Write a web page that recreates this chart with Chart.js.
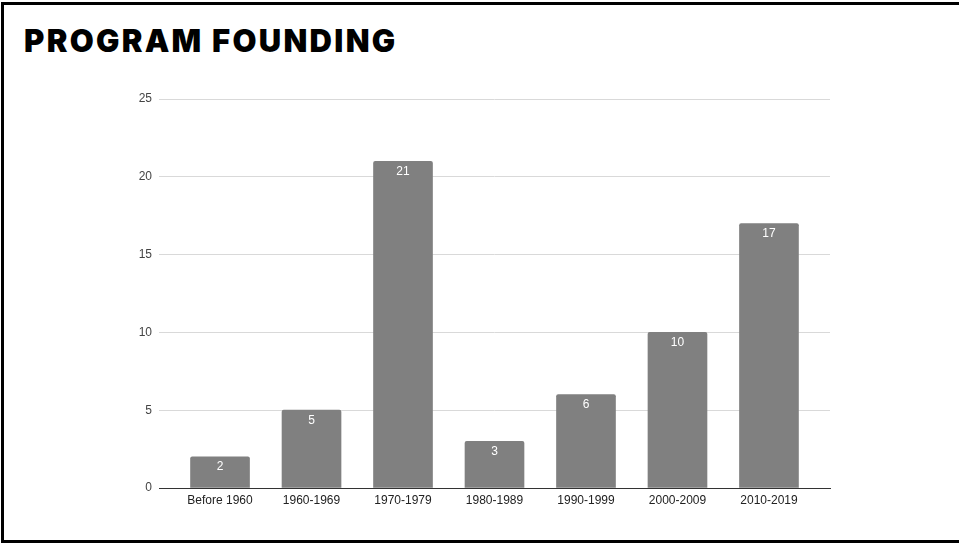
<!DOCTYPE html>
<html>
<head>
<meta charset="utf-8">
<script src="https://cdn.jsdelivr.net/npm/chart.js@4"></script>
<style>
  html, body { margin: 0; padding: 0; background: #fff; }
  body { width: 959px; height: 543px; position: relative; overflow: hidden; }
  #frame {
    position: absolute; left: 1px; top: 2px; width: 980px; height: 541px;
    border-left: 3px solid #000; border-top: 3px solid #000; border-bottom: 3px solid #000;
    box-sizing: border-box;
  }
  #title {
    position: absolute; left: 24px; top: 22px;
    font-family: Inter, "Open Sans", sans-serif; font-weight: 900; font-size: 31px;
    color: #000; letter-spacing: 2.3px; white-space: nowrap;
  }
  #chart { position: absolute; left: 0; top: 0; }
</style>
</head>
<body>
<div id="frame"></div>
<div id="title">PROGRAM FOUNDING</div>
<canvas id="chart" width="959" height="543"></canvas>
<script>
// chart data
const categories = ['Before 1960', '1960-1969', '1970-1979', '1980-1989', '1990-1999', '2000-2009', '2010-2019'];
const programCounts = [2, 5, 21, 3, 6, 10, 17];
const yTicks = [0, 5, 10, 15, 20, 25];

// white value labels just inside the top of each bar
const barLabels = {
    id: 'barLabels',
    afterDatasetsDraw(chart) {
        const ctx = chart.ctx;
        const meta = chart.getDatasetMeta(0);
        ctx.save();
        ctx.fillStyle = '#ffffff';
        ctx.font = '12px "Liberation Sans", Arial, sans-serif';
        ctx.textAlign = 'center';
        ctx.textBaseline = 'middle';
        meta.data.forEach((bar, i) => {
            ctx.fillText(String(programCounts[i]), bar.x, bar.y + 10);
        });
        ctx.restore();
    }
};

const ctx = document.getElementById('chart').getContext('2d');
new Chart(ctx, {
    type: 'bar',
    data: {
        datasets: [{
            data: programCounts.map((v, i) => ({ x: i, y: v })),
            backgroundColor: '#808080',
            borderRadius: { topLeft: 2, topRight: 2, bottomLeft: 0, bottomRight: 0 },
            borderSkipped: 'start',
            barThickness: 59
        }]
    },
    options: {
        responsive: false,
        animation: false,
        layout: { padding: { left: 100, right: 129, top: 99, bottom: 25 } },
        plugins: { legend: { display: false }, tooltip: { enabled: false } },
        scales: {
            x: {
                type: 'linear',
                offset: false,
                min: -0.667,
                max: 6.667,
                afterBuildTicks: axis => { axis.ticks = categories.map((c, i) => ({ value: i })); },
                afterFit: axis => { axis.height = 30; },
                grid: { display: false, drawTicks: false },
                border: { display: true, color: '#333', width: 1 },
                ticks: {
                    callback: v => categories[v],
                    color: '#222',
                    font: { family: '"Liberation Sans", Arial, sans-serif', size: 12 },
                    padding: 5,
                    maxRotation: 0,
                    autoSkip: false
                }
            },
            y: {
                min: 0,
                max: 25,
                afterBuildTicks: axis => { axis.ticks = yTicks.map(v => ({ value: v })); },
                afterFit: axis => { axis.width = 59; },
                grid: {
                    color: c => c.tick.value === 0 ? '#333' : '#d9d9d9',
                    drawTicks: false
                },
                border: { display: false },
                ticks: {
                    color: '#444',
                    font: { family: '"Liberation Sans", Arial, sans-serif', size: 12 },
                    padding: 7
                }
            }
        }
    },
    plugins: [barLabels]
});
</script>
</body>
</html>
